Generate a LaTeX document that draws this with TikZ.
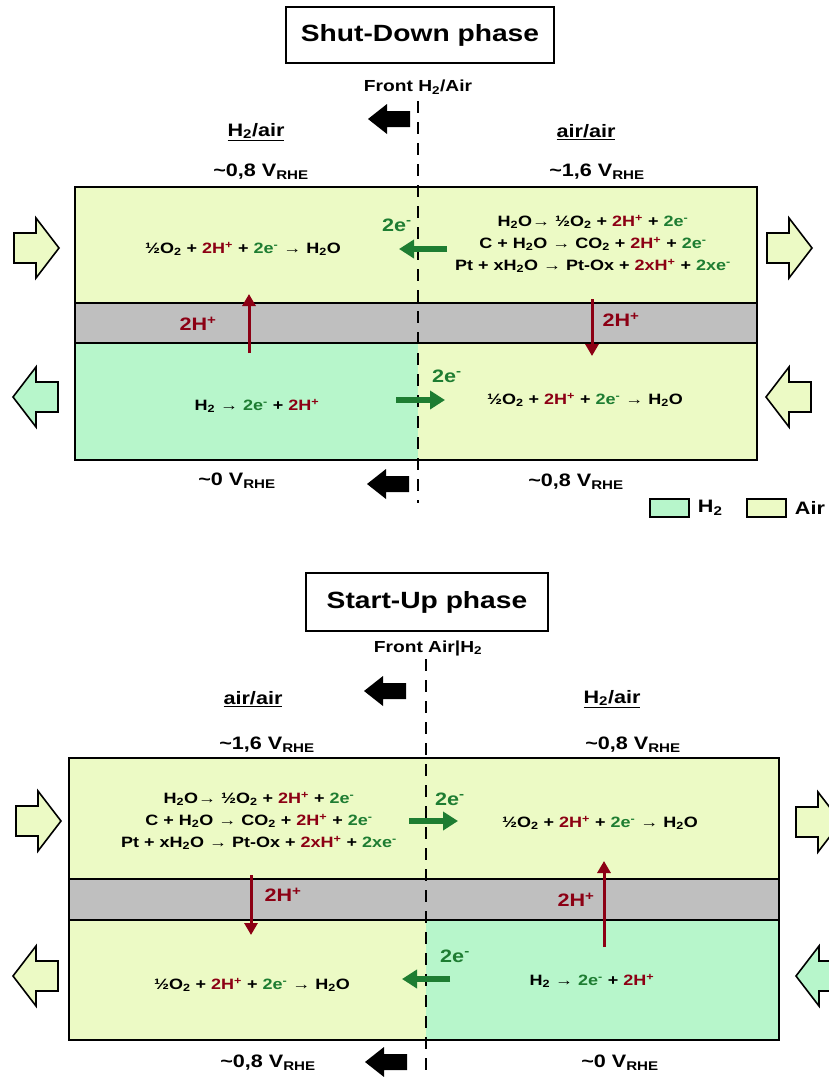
\documentclass[tikz,border=0pt]{standalone}
\usepackage{fontspec}
\setmainfont[FakeStretch=1.2]{Liberation Sans}
\usetikzlibrary{positioning,arrows.meta}

\definecolor{airc}{RGB}{236,250,197}
\definecolor{hydc}{RGB}{183,246,203}
\definecolor{memc}{RGB}{191,191,191}
\definecolor{hred}{RGB}{140,0,20}
\definecolor{egreen}{RGB}{30,125,50}

\newcommand{\protons}[1]{\textcolor{hred}{#1H\textsuperscript{+}}}
\newcommand{\electrons}[1]{\textcolor{egreen}{#1e\textsuperscript{-}}}
\newcommand{\vrhe}{V\textsubscript{RHE}}
\newcommand{\orr}{½O\textsubscript{2} + \protons{2} + \electrons{2} → H\textsubscript{2}O}
\newcommand{\hor}{H\textsubscript{2} → \electrons{2} + \protons{2}}
\newcommand{\corr}{H\textsubscript{2}O→ ½O\textsubscript{2} + \protons{2} + \electrons{2}\\
  C + H\textsubscript{2}O → CO\textsubscript{2} + \protons{2} + \electrons{2}\\
  Pt + xH\textsubscript{2}O → Pt-Ox + \protons{2x} + \electrons{2x}}
\newcommand{\flowright}[3]{\draw[gasflow,fill=#1] (#2,#3) -- ++(-23,-30) -- ++(0,15) -- ++(-22,0) -- ++(0,30) -- ++(22,0) -- ++(0,15) -- cycle;}
\newcommand{\flowleft}[3]{\draw[gasflow,fill=#1] (#2,#3) -- ++(23,-30) -- ++(0,15) -- ++(22,0) -- ++(0,30) -- ++(-22,0) -- ++(0,15) -- cycle;}
\newcommand{\frontmove}[2]{\fill (#1,#2) -- ++(19,-15) -- ++(0,7) -- ++(23,0) -- ++(0,16) -- ++(-23,0) -- ++(0,7) -- cycle;}

\begin{document}
\begin{tikzpicture}[x=1pt,y=-1pt]
  \tikzstyle{every node}=[inner sep=0,font=\bfseries]
  \tikzstyle{title}=[draw,line width=1.3,font=\bfseries\fontsize{23.5}{23.5}\selectfont]
  \tikzstyle{front}=[font=\bfseries\fontsize{16}{16}\selectfont]
  \tikzstyle{gas}=[font=\bfseries\fontsize{18}{18}\selectfont]
  \tikzstyle{pot}=[font=\bfseries\fontsize{18}{18}\selectfont]
  \tikzstyle{react}=[align=center,font=\bfseries\fontsize{15}{22}\selectfont]
  \tikzstyle{charge}=[font=\bfseries\fontsize{18}{18}\selectfont]
  \tikzstyle{cell}=[draw,line width=1.5]
  \tikzstyle{frontline}=[line width=2.6,dash pattern=on 12 off 9]
  \tikzstyle{gasflow}=[line width=1.6,line join=miter]
  \tikzstyle{hflow}=[hred,line width=3,-{Triangle[length=12,width=13]}]
  \tikzstyle{eflow}=[egreen,line width=5.5,-{Triangle[length=15,width=18]}]
  \tikzstyle{key}=[draw,line width=1.5,minimum width=39,minimum height=18]

  \useasboundingbox (0,0) rectangle (829,1077);

  % Shut-Down phase
  \node[title,minimum width=268,minimum height=56] (sdtitle) at (420,35) {Shut-Down phase};
  \node[front] (sdfront) at (418,87) {Front H\textsubscript{2}/Air};
  \node[gas] (sdleft) at (256,132) {\underline{H\textsubscript{2}/air}};
  \node[gas] (sdright) at (586,132) {\underline{air/air}};
  \node[pot] (sdpotA) at (261,172) {\textasciitilde0,8 \vrhe};
  \node[pot] (sdpotB) at (597,172) {\textasciitilde1,6 \vrhe};
  \node[pot] (sdpotC) at (237,481) {\textasciitilde0 \vrhe};
  \node[pot] (sdpotD) at (576,482) {\textasciitilde0,8 \vrhe};

  \fill[airc] (75,187) rectangle (757,303);
  \fill[memc] (75,303) rectangle (757,343);
  \fill[hydc] (75,343) rectangle (418,460);
  \fill[airc] (418,343) rectangle (757,460);
  \draw[cell] (75,187) rectangle (757,460);
  \draw[cell] (75,303) -- (757,303) (75,343) -- (757,343);

  \coordinate (sdtop) at (418,101);
  \coordinate (sdbot) at (418,503);
  \draw[frontline] (sdtop) -- (sdbot);
  \frontmove{368}{119}
  \frontmove{367}{484}

  \flowright{airc}{59}{248}
  \flowleft{hydc}{13}{397}
  \flowright{airc}{812}{248}
  \flowleft{airc}{766}{397}

  \node[react] (sdcathA) at (243,249) {\orr};
  \node[react] (sdcorr) at (593,244) {\corr};
  \node[react] (sdanode) at (257,406) {\hor};
  \node[react] (sdcathB) at (585,400) {\orr};

  \coordinate (sdhA) at (249,353);
  \coordinate (sdhB) at (249,294);
  \coordinate (sdhC) at (592,299);
  \coordinate (sdhD) at (592,356);
  \draw[hflow] (sdhA) -- (sdhB);
  \draw[hflow] (sdhC) -- (sdhD);
  \node[charge,text=hred] (sdpA) at (198,324) {2H\textsuperscript{+}};
  \node[charge,text=hred] (sdpB) at (621,320) {2H\textsuperscript{+}};

  \coordinate (sdeA) at (447,249);
  \coordinate (sdeB) at (399,249);
  \coordinate (sdeC) at (396,400);
  \coordinate (sdeD) at (445,400);
  \draw[eflow] (sdeA) -- (sdeB);
  \draw[eflow] (sdeC) -- (sdeD);
  \node[charge,text=egreen] (sdnA) at (397,225) {2e\textsuperscript{-}};
  \node[charge,text=egreen] (sdnB) at (447,376) {2e\textsuperscript{-}};

  \node[key,fill=hydc] (keyhyd) at (669.5,508) {};
  \node[pot,right=8 of keyhyd] (keyhydtxt) {H\textsubscript{2}};
  \node[key,fill=airc] (keyair) at (766.5,508) {};
  \node[pot,right=8 of keyair] (keyairtxt) {Air};

  % Start-Up phase
  \node[title,minimum width=242,minimum height=58] (sutitle) at (427,602) {Start-Up phase};
  \node[front] (sufront) at (428,648) {Front Air|H\textsubscript{2}};
  \node[gas] (suleft) at (253,699) {\underline{air/air}};
  \node[gas] (suright) at (612,699) {\underline{H\textsubscript{2}/air}};
  \node[pot] (supotA) at (267,745) {\textasciitilde1,6 \vrhe};
  \node[pot] (supotB) at (633,745) {\textasciitilde0,8 \vrhe};
  \node[pot] (supotC) at (268,1063) {\textasciitilde0,8 \vrhe};
  \node[pot] (supotD) at (620,1063) {\textasciitilde0 \vrhe};

  \fill[airc] (69,758) rectangle (779,879);
  \fill[memc] (69,879) rectangle (779,920);
  \fill[airc] (69,920) rectangle (426,1040);
  \fill[hydc] (426,920) rectangle (779,1040);
  \draw[cell] (69,758) rectangle (779,1040);
  \draw[cell] (69,879) -- (779,879) (69,920) -- (779,920);

  \coordinate (sutop) at (426,659);
  \coordinate (subot) at (426,1077);
  \draw[frontline] (sutop) -- (subot);
  \frontmove{364}{691}
  \frontmove{365}{1062}

  \flowright{airc}{61}{821}
  \flowleft{airc}{13}{976}
  \flowright{airc}{841}{822}
  \flowleft{hydc}{796}{976}

  \node[react] (sucorr) at (259,821) {\corr};
  \node[react] (sucathA) at (600,823) {\orr};
  \node[react] (sucathB) at (252,985) {\orr};
  \node[react] (suanode) at (592,981) {\hor};

  \coordinate (suhA) at (251,875);
  \coordinate (suhB) at (251,935);
  \coordinate (suhC) at (604,947);
  \coordinate (suhD) at (604,861);
  \draw[hflow] (suhA) -- (suhB);
  \draw[hflow] (suhC) -- (suhD);
  \node[charge,text=hred] (supA) at (283,895) {2H\textsuperscript{+}};
  \node[charge,text=hred] (supB) at (576,900) {2H\textsuperscript{+}};

  \coordinate (sueA) at (409,821);
  \coordinate (sueB) at (458,821);
  \coordinate (sueC) at (450,979);
  \coordinate (sueD) at (402,979);
  \draw[eflow] (sueA) -- (sueB);
  \draw[eflow] (sueC) -- (sueD);
  \node[charge,text=egreen] (sunA) at (450,799) {2e\textsuperscript{-}};
  \node[charge,text=egreen] (sunB) at (455,956) {2e\textsuperscript{-}};
\end{tikzpicture}
\end{document}
